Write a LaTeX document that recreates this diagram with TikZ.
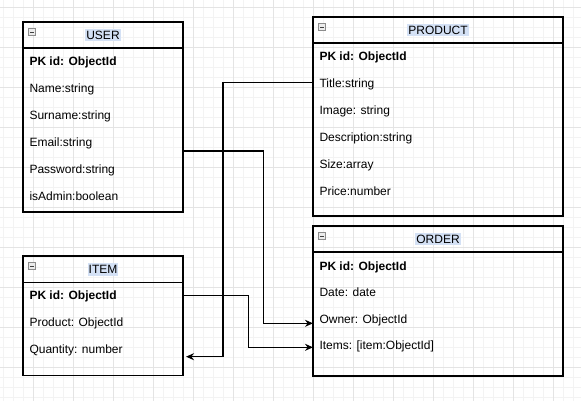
\documentclass[tikz,border=0pt]{standalone}
\usepackage{fontspec}
\setmainfont{Liberation Sans}
\usetikzlibrary{positioning,arrows.meta}
\definecolor{hl}{HTML}{D4E1F5}
\definecolor{gridminor}{HTML}{F3F3F3}
\definecolor{gridmajor}{HTML}{E4E4E4}

\begin{document}
\begin{tikzpicture}[x=1pt,y=-1pt,font=\fontsize{12}{14}\selectfont,
  hdr/.style={draw,line width=1.1pt,anchor=north west,inner sep=0pt,outer sep=0pt},
  body/.style={draw,line width=1.1pt,inner sep=0pt,outer sep=0pt},
  ttl/.style={fill=hl,inner xsep=1pt,inner ysep=2pt,text height=8.6pt,text depth=0pt},
  row/.style={anchor=west,inner sep=0pt,text height=8.6pt,text depth=0pt},
  minus/.style={draw=gray!90,fill=gray!15,line width=0.6pt,minimum size=7pt,inner sep=0pt,
    path picture={\draw[black!75,line width=0.9pt]
      ([xshift=1.6pt]path picture bounding box.west) -- ([xshift=-1.6pt]path picture bounding box.east);}},
  rel/.style={line width=1.1pt,-{Stealth[length=8pt,width=7pt]}}]
\useasboundingbox (0,0) rectangle (581,401);

\foreach \x in {3,13,...,573}
\draw[gridminor,line width=0.6pt] (\x,0) -- (\x,401);
\foreach \y in {7,17,...,397}
\draw[gridminor,line width=0.6pt] (0,\y) -- (581,\y);
\foreach \x in {33,73,...,553}
\draw[gridmajor,line width=0.6pt] (\x,0) -- (\x,401);
\foreach \y in {7,47,...,367}
\draw[gridmajor,line width=0.6pt] (0,\y) -- (581,\y);

\node[hdr,minimum width=160pt,minimum height=26pt] (user-h) at (23,22) {};
\node[body,minimum width=160pt,minimum height=164pt,below=0pt of user-h] (user) {};
\node[ttl] at (user-h) {USER};
\node[minus] at (32,32) {};
\node[row] (user-0) at (29.3,61.5) {\bfseries PK id: ObjectId};
\foreach \t [count=\i] in {Name:string,Surname:string,Email:string,Password:string,isAdmin:boolean}
\node[row] (user-\i) at (29.3,{61.5+27*\i}) {\t};

\node[hdr,minimum width=250pt,minimum height=26pt] (product-h) at (313,17) {};
\node[body,minimum width=250pt,minimum height=173pt,below=0pt of product-h] (product) {};
\node[ttl] at (product-h) {PRODUCT};
\node[minus] at (322,27) {};
\node[row] (product-0) at (319.3,56.5) {\bfseries PK id: ObjectId};
\foreach \t [count=\i] in {Title:string,Image: string,Description:string,Size:array,Price:number}
\node[row] (product-\i) at (319.3,{56.5+27*\i}) {\t};

\node[hdr,minimum width=250pt,minimum height=26pt] (order-h) at (313,226) {};
\node[body,minimum width=250pt,minimum height=124pt,below=0pt of order-h] (order) {};
\node[ttl] at (order-h) {ORDER};
\node[minus] at (322,236) {};
\node[row] (order-0) at (319.3,265.7) {\bfseries PK id: ObjectId};
\foreach \t [count=\i] in {Date: date,Owner: ObjectId,{Items: [item:ObjectId]}}
\node[row] (order-\i) at (319.3,{265.7+26.5*\i}) {\t};

\node[hdr,minimum width=160pt,minimum height=26.5pt] (item-h) at (23,256) {};
\node[body,minimum width=160pt,minimum height=93pt,below=0pt of item-h] (item) {};
\node[ttl] at (item-h) {ITEM};
\node[minus] at (32,266) {};
\node[row] (item-0) at (29.3,295) {\bfseries PK id: ObjectId};
\foreach \t [count=\i] in {Product: ObjectId,Quantity: number}
\node[row] (item-\i) at (29.3,{295+27*\i}) {\t};

\coordinate (bendA1) at (223,82.3);
\coordinate (bendA2) at (223,356.7);
\coordinate (bendB1) at (263.3,151);
\coordinate (bendB2) at (263.3,323.3);
\coordinate (bendC1) at (248.3,295.7);
\coordinate (bendC2) at (248.3,347.3);

\draw[rel,shorten >=3pt] (product.west |- bendA1) -- (bendA1) -- (bendA2) -- (item.east |- bendA2);
\draw[rel] (user.east |- bendB1) -- (bendB1) -- (bendB2) -- (order.west |- bendB2);
\draw[rel] (item.east |- bendC1) -- (bendC1) -- (bendC2) -- (order.west |- bendC2);

\end{tikzpicture}
\end{document}
